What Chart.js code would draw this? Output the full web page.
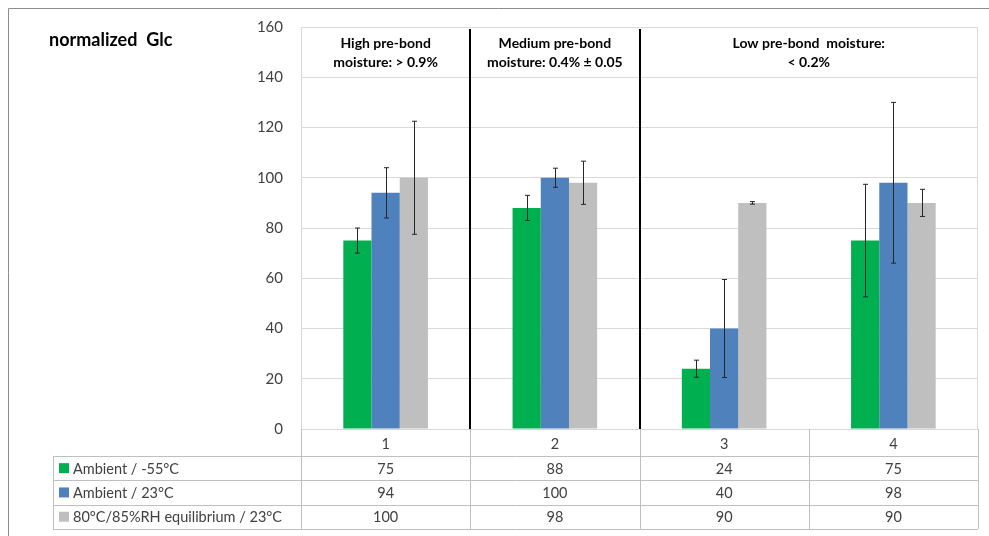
<!DOCTYPE html>
<html>
<head>
<meta charset="utf-8">
<script src="https://cdn.jsdelivr.net/npm/chart.js@4/dist/chart.umd.min.js"></script>
<style>
  html, body { margin: 0; padding: 0; background: #fff; }
  #wrap { width: 989px; height: 536px; position: relative; }
</style>
</head>
<body>
<div id="wrap"><canvas id="glcChart" width="989" height="536"></canvas></div>
<script>
// data
const aCategories = ["1", "2", "3", "4"];
const aSeriesNames = ["Ambient / -55°C", "Ambient / 23°C", "80°C/85%RH equilibrium / 23°C"];
const aAmbientCold = [75, 88, 24, 75];
const aAmbientRoom = [94, 100, 40, 98];
const aEquilibrium = [100, 98, 90, 90];
const aErrCold = [5, 5, 3.4, 22.4];
const aErrRoom = [10, 3.8, 19.5, 32];
const aErrEquil = [22.5, 8.6, 0.5, 5.4];
const aHeaders = [
    ["High pre-bond", "moisture: > 0.9%"],
    ["Medium pre-bond", "moisture: 0.4% ± 0.05"],
    ["Low pre-bond  moisture:", "< 0.2%"]
];
const aHeaderSpan = [[0, 0], [1, 1], [2, 3]]; // which categories each header covers
const aSeparatorAfter = [0, 1]; // black line after these categories
const aColours = ["#00b050", "#4f81bd", "#bfbfbf"];

const sFont = "Lato, 'Open Sans', sans-serif";
const sText = "#404040";
const sGrid = "#d9d9d9";

const aSeriesValues = [aAmbientCold, aAmbientRoom, aEquilibrium];
const aSeriesErrors = [aErrCold, aErrRoom, aErrEquil];

const errorBarsPlugin = {
    id: "errorBars",
    afterDatasetsDraw(chart) {
        const ctx = chart.ctx;
        const yScale = chart.scales.y;
        ctx.save();
        ctx.strokeStyle = "#262626";
        ctx.lineWidth = 1;
        chart.data.datasets.forEach((ds, i) => {
            const meta = chart.getDatasetMeta(i);
            meta.data.forEach((bar, j) => {
                const v = ds.data[j];
                const e = aSeriesErrors[i][j];
                const x = Math.round(bar.x) + 0.5;
                const yTop = yScale.getPixelForValue(v + e);
                const yBot = yScale.getPixelForValue(v - e);
                ctx.beginPath();
                ctx.moveTo(x, yTop); ctx.lineTo(x, yBot);
                ctx.moveTo(x - 2.5, yTop); ctx.lineTo(x + 2.5, yTop);
                ctx.moveTo(x - 2.5, yBot); ctx.lineTo(x + 2.5, yBot);
                ctx.stroke();
            });
        });
        ctx.restore();
    }
};

const tablePlugin = {
    id: "dataTable",
    afterDraw(chart) {
        const ctx = chart.ctx;
        const xScale = chart.scales.x;
        const area = chart.chartArea;
        const nCat = aCategories.length;
        const catW = (area.right - area.left) / nCat;
        const bound = (k) => area.left + catW * k;
        const tableLeft = 53;
        const rowTop = area.bottom + 27;
        const rowH = 24.3;
        const tableBottom = rowTop + rowH * aSeriesNames.length;

        ctx.save();
        // black separators between moisture groups
        ctx.strokeStyle = "#000";
        ctx.lineWidth = 2;
        aSeparatorAfter.forEach(k => {
            const x = Math.round(bound(k + 1));
            ctx.beginPath();
            ctx.moveTo(x, area.top + 2);
            ctx.lineTo(x, area.bottom);
            ctx.stroke();
        });

        // group headers
        ctx.fillStyle = "#000";
        ctx.font = "bold 14px " + sFont;
        ctx.textAlign = "center";
        ctx.textBaseline = "middle";
        aHeaders.forEach((lines, h) => {
            const [a, b] = aHeaderSpan[h];
            const cx = (xScale.getPixelForValue(a) + xScale.getPixelForValue(b)) / 2;
            lines.forEach((line, li) => {
                ctx.fillText(line, cx, area.top + 16 + li * 19);
            });
        });

        // table grid
        ctx.strokeStyle = "#bfbfbf";
        ctx.lineWidth = 1;
        ctx.beginPath();
        for (let r = 0; r <= aSeriesNames.length; r++) {
            const y = Math.round(rowTop + r * rowH) + 0.5;
            ctx.moveTo(tableLeft, y); ctx.lineTo(area.right, y);
        }
        ctx.moveTo(tableLeft + 0.5, rowTop); ctx.lineTo(tableLeft + 0.5, tableBottom);
        for (let k = 0; k <= nCat; k++) {
            const x = Math.round(bound(k)) + 0.5;
            ctx.moveTo(x, area.bottom); ctx.lineTo(x, tableBottom);
        }
        ctx.stroke();

        // category labels
        ctx.fillStyle = sText;
        ctx.font = "14.5px " + sFont;
        aCategories.forEach((c, k) => {
            ctx.fillText(c, xScale.getPixelForValue(k), area.bottom + 15);
        });

        // series rows
        aSeriesNames.forEach((name, r) => {
            const cy = rowTop + r * rowH + rowH / 2;
            ctx.fillStyle = aColours[r];
            ctx.fillRect(59, cy - 5, 10, 10);
            ctx.fillStyle = sText;
            ctx.textAlign = "left";
            ctx.fillText(name, 73, cy + 1);
            ctx.textAlign = "center";
            aSeriesValues[r].forEach((v, k) => {
                ctx.fillText(String(v), xScale.getPixelForValue(k), cy + 1);
            });
        });

        // chart title
        ctx.fillStyle = "#000";
        ctx.font = "bold 18px " + sFont;
        ctx.textAlign = "left";
        ctx.fillText("normalized  Glc", 49, 40);

        // outer frame
        ctx.strokeStyle = "#8c8c8c";
        ctx.beginPath();
        ctx.moveTo(8.5, 536); ctx.lineTo(8.5, 8.5); ctx.lineTo(989, 8.5);
        ctx.stroke();
        ctx.restore();
    }
};

const aDatasets = aSeriesNames.map((name, i) => ({
    label: name,
    data: aSeriesValues[i],
    backgroundColor: aColours[i],
    borderWidth: 0,
    categoryPercentage: 0.5,
    barPercentage: 1.0
}));

new Chart(document.getElementById("glcChart").getContext("2d"), {
    type: "bar",
    data: { labels: aCategories, datasets: aDatasets },
    options: {
        responsive: false,
        animation: false,
        devicePixelRatio: 1,
        layout: { padding: { left: 0, right: 11, top: 26, bottom: 107 } },
        plugins: {
            legend: { display: false },
            tooltip: { enabled: false },
            title: { display: false }
        },
        scales: {
            x: {
                display: false,
                grid: { display: false }
            },
            y: {
                min: 0,
                max: 160,
                afterFit(scale) { scale.width = 301; },
                ticks: {
                    stepSize: 20,
                    padding: 18,
                    color: sText,
                    font: { family: sFont, size: 15 }
                },
                grid: { color: sGrid, drawTicks: false },
                border: { display: true, color: sGrid }
            }
        }
    },
    plugins: [errorBarsPlugin, tablePlugin, {
        id: "plotBorder",
        beforeDatasetsDraw(chart) {
            const a = chart.chartArea;
            const ctx = chart.ctx;
            ctx.save();
            ctx.strokeStyle = sGrid;
            ctx.lineWidth = 1;
            ctx.strokeRect(Math.round(a.left) + 0.5, Math.round(a.top) + 0.5,
                Math.round(a.right - a.left) - 1, Math.round(a.bottom - a.top));
            ctx.restore();
        }
    }]
});
</script>
</body>
</html>
